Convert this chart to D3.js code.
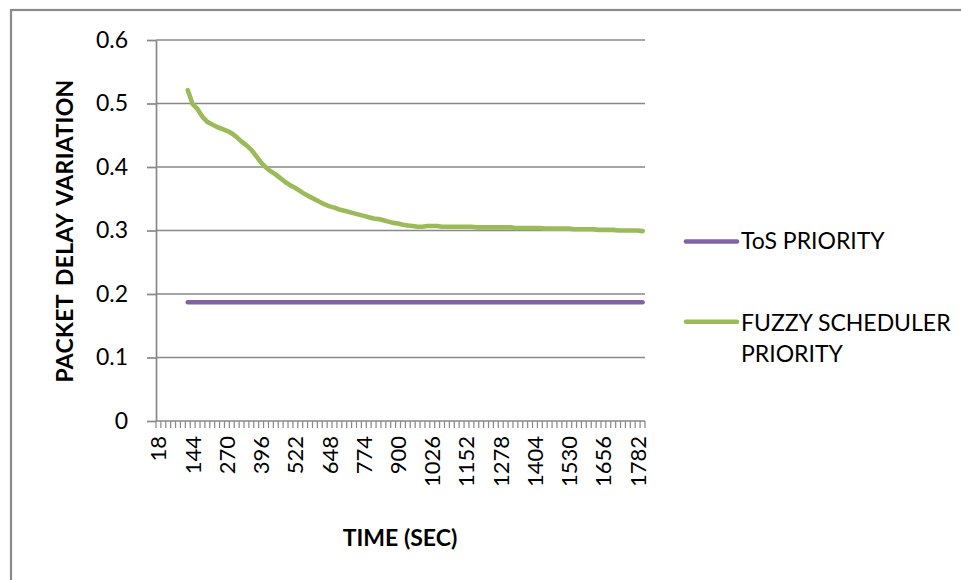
<!DOCTYPE html>
<html>
<head>
<meta charset="utf-8">
<script src="https://cdn.jsdelivr.net/npm/d3@7"></script>
<style>
  html, body { margin: 0; padding: 0; background: #fff; }
  svg { display: block; }
</style>
</head>
<body>
<svg id="chart" width="961" height="580"></svg>
<script>
// Time categories (seconds), one every 18 s
const categories = [
  18, 36, 54, 72, 90, 108, 126, 144, 162, 180,
  198, 216, 234, 252, 270, 288, 306, 324, 342, 360,
  378, 396, 414, 432, 450, 468, 486, 504, 522, 540,
  558, 576, 594, 612, 630, 648, 666, 684, 702, 720,
  738, 756, 774, 792, 810, 828, 846, 864, 882, 900,
  918, 936, 954, 972, 990, 1008, 1026, 1044, 1062, 1080,
  1098, 1116, 1134, 1152, 1170, 1188, 1206, 1224, 1242, 1260,
  1278, 1296, 1314, 1332, 1350, 1368, 1386, 1404, 1422, 1440,
  1458, 1476, 1494, 1512, 1530, 1548, 1566, 1584, 1602, 1620,
  1638, 1656, 1674, 1692, 1710, 1728, 1746, 1764, 1782, 1800
];

// Categories that carry a label on the time axis
const tickLabels = [18, 144, 270, 396, 522, 648, 774, 900, 1026, 1152, 1278, 1404, 1530, 1656, 1782];

// Value axis ticks
const yTicks = [0, 0.1, 0.2, 0.3, 0.4, 0.5, 0.6];

// ToS priority: packet delay variation per category
const tosPriority = [
  null, null, null, null, null, null, 0.187, 0.187, 0.187, 0.187,
  0.187, 0.187, 0.187, 0.187, 0.187, 0.187, 0.187, 0.187, 0.187, 0.187,
  0.187, 0.187, 0.187, 0.187, 0.187, 0.187, 0.187, 0.187, 0.187, 0.187,
  0.187, 0.187, 0.187, 0.187, 0.187, 0.187, 0.187, 0.187, 0.187, 0.187,
  0.187, 0.187, 0.187, 0.187, 0.187, 0.187, 0.187, 0.187, 0.187, 0.187,
  0.187, 0.187, 0.187, 0.187, 0.187, 0.187, 0.187, 0.187, 0.187, 0.187,
  0.187, 0.187, 0.187, 0.187, 0.187, 0.187, 0.187, 0.187, 0.187, 0.187,
  0.187, 0.187, 0.187, 0.187, 0.187, 0.187, 0.187, 0.187, 0.187, 0.187,
  0.187, 0.187, 0.187, 0.187, 0.187, 0.187, 0.187, 0.187, 0.187, 0.187,
  0.187, 0.187, 0.187, 0.187, 0.187, 0.187, 0.187, 0.187, 0.187, 0.187
];

// Fuzzy scheduler priority: packet delay variation per category
const fuzzyPriority = [
  null, null, null, null, null, null, 0.521, 0.499, 0.491, 0.479,
  0.471, 0.467, 0.463, 0.460, 0.457, 0.453, 0.447, 0.440, 0.434, 0.427,
  0.417, 0.407, 0.399, 0.393, 0.388, 0.382, 0.376, 0.371, 0.367, 0.362,
  0.357, 0.353, 0.349, 0.345, 0.341, 0.338, 0.336, 0.333, 0.331, 0.329,
  0.327, 0.325, 0.323, 0.321, 0.319, 0.318, 0.316, 0.314, 0.312, 0.311,
  0.309, 0.308, 0.307, 0.306, 0.306, 0.307, 0.307, 0.307, 0.306, 0.306,
  0.306, 0.306, 0.306, 0.306, 0.306, 0.305, 0.305, 0.305, 0.305, 0.305,
  0.305, 0.305, 0.305, 0.304, 0.304, 0.304, 0.304, 0.304, 0.304, 0.303,
  0.303, 0.303, 0.303, 0.303, 0.303, 0.302, 0.302, 0.302, 0.302, 0.302,
  0.301, 0.301, 0.301, 0.301, 0.300, 0.300, 0.300, 0.300, 0.300, 0.299
];

const seriesNames = ["ToS PRIORITY", "FUZZY SCHEDULER PRIORITY"];
const seriesColors = ["#8064A2", "#9BBB59"];

// ---- layout ----
const plot = { left: 156, right: 645, top: 40, bottom: 421 };
const gridColor = "#888888";
const font = "Lato, 'Open Sans', sans-serif";

const svg = d3.select("#chart");

// chart-area frame
svg.append("rect")
  .attr("x", 11).attr("y", 10)
  .attr("width", 980).attr("height", 600)
  .attr("fill", "#fff")
  .attr("stroke", "#8a8a8a")
  .attr("stroke-width", 2.2);

const x = d3.scaleBand()
  .domain(categories)
  .range([plot.left, plot.right])
  .padding(0);

const y = d3.scaleLinear()
  .domain([0, 0.6])
  .range([plot.bottom, plot.top]);

const cx = c => x(c) + x.bandwidth() / 2;

// horizontal gridlines
svg.append("g")
  .selectAll("line")
  .data(yTicks)
  .join("line")
  .attr("x1", plot.left).attr("x2", plot.right)
  .attr("y1", d => y(d)).attr("y2", d => y(d))
  .attr("stroke", gridColor)
  .attr("stroke-width", 1.7);

// value axis
const yAxis = svg.append("g")
  .attr("transform", `translate(${plot.left},0)`)
  .call(d3.axisLeft(y)
    .tickValues(yTicks)
    .tickSize(9)
    .tickSizeOuter(0)
    .tickPadding(19)
    .tickFormat(d => d === 0 ? "0" : d3.format(".1f")(d)));
yAxis.select(".domain").attr("stroke", gridColor).attr("stroke-width", 1.7);
yAxis.selectAll(".tick line").attr("stroke", gridColor).attr("stroke-width", 1.7);
yAxis.selectAll(".tick text")
  .attr("fill", "#000")
  .style("font-family", font)
  .style("font-size", "23px");

// category tick marks sit on the boundaries between categories
const boundaries = categories.map(c => x(c)).concat([plot.right]);
svg.append("g")
  .selectAll("line")
  .data(boundaries)
  .join("line")
  .attr("x1", d => d).attr("x2", d => d)
  .attr("y1", plot.bottom).attr("y2", plot.bottom + 7)
  .attr("stroke", gridColor)
  .attr("stroke-width", 1.2);

// category labels, rotated
svg.append("g")
  .selectAll("text")
  .data(tickLabels)
  .join("text")
  .attr("transform", d => `translate(${cx(d)},${plot.bottom + 15}) rotate(-90)`)
  .attr("text-anchor", "end")
  .attr("dy", "0.36em")
  .style("font-family", font)
  .style("font-size", "22px")
  .attr("fill", "#000")
  .text(d => d);

// series lines
const line = d3.line()
  .defined(d => d.v !== null)
  .x(d => cx(d.c))
  .y(d => y(d.v));

[tosPriority, fuzzyPriority].forEach((vals, i) => {
  svg.append("path")
    .datum(categories.map((c, k) => ({ c, v: vals[k] })))
    .attr("d", line)
    .attr("fill", "none")
    .attr("stroke", seriesColors[i])
    .attr("stroke-width", 4.6)
    .attr("stroke-linejoin", "round")
    .attr("stroke-linecap", "round");
});

// axis titles
svg.append("text")
  .attr("transform", `translate(73,231) rotate(-90)`)
  .attr("text-anchor", "middle")
  .style("font-family", font)
  .style("font-size", "23px")
  .style("font-weight", "bold")
  .style("word-spacing", "3px")
  .style("letter-spacing", "0.3px")
  .text("PACKET DELAY VARIATION");

svg.append("text")
  .attr("x", 400).attr("y", 546)
  .attr("text-anchor", "middle")
  .style("font-family", font)
  .style("font-size", "23px")
  .style("font-weight", "bold")
  .text("TIME (SEC)");

// legend
const legend = svg.append("g");
const legendItems = [
  { y: 241.5, lines: [seriesNames[0]], baseline: 248.5 },
  { y: 321.7, lines: ["FUZZY SCHEDULER", "PRIORITY"], baseline: 330.5 }
];
legendItems.forEach((item, i) => {
  legend.append("line")
    .attr("x1", 686).attr("x2", 737)
    .attr("y1", item.y).attr("y2", item.y)
    .attr("stroke", seriesColors[i])
    .attr("stroke-width", 4.6)
    .attr("stroke-linecap", "round");
  const t = legend.append("text")
    .attr("x", 741)
    .attr("y", item.baseline)
    .style("font-family", font)
    .style("font-size", "23px")
    .attr("fill", "#000");
  item.lines.forEach((s, k) => {
    t.append("tspan")
      .attr("x", 741)
      .attr("dy", k === 0 ? 0 : 31.5)
      .text(s);
  });
});
</script>
</body>
</html>
